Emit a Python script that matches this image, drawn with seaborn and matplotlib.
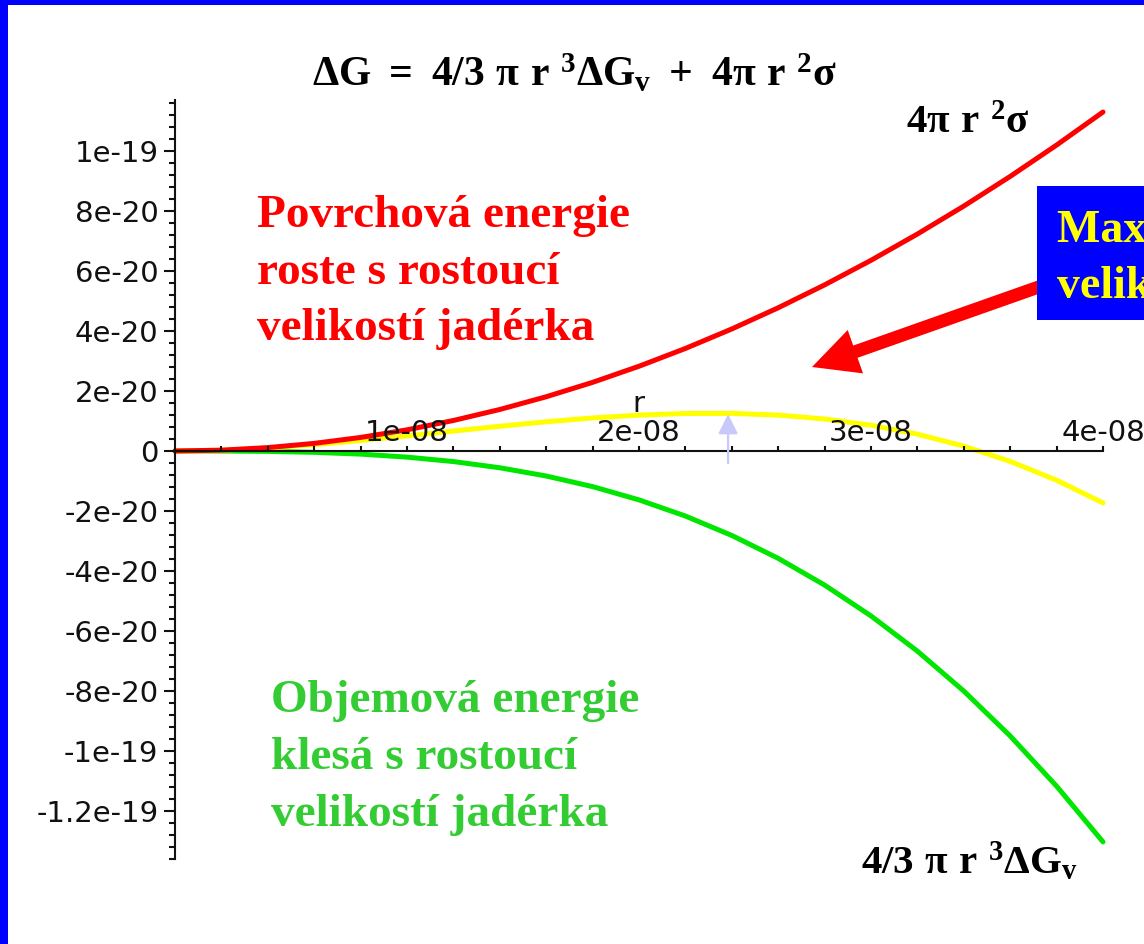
import numpy as np
import pandas as pd
import matplotlib
matplotlib.use("Agg")
import matplotlib.pyplot as plt
import seaborn as sns
from matplotlib.patches import Rectangle, FancyArrow
from matplotlib.ticker import FixedLocator, FixedFormatter
from matplotlib.transforms import IdentityTransform

# ---------------- data ----------------
r_values = [0.0, 2e-9, 4e-9, 6e-9, 8e-9, 10e-9, 12e-9, 14e-9, 16e-9, 18e-9, 20e-9,
            22e-9, 24e-9, 26e-9, 28e-9, 30e-9, 32e-9, 34e-9, 36e-9, 38e-9, 40e-9]
surface_energy = [0.0, 0.028e-20, 0.113e-20, 0.254e-20, 0.452e-20, 0.706e-20, 1.017e-20,
                  1.384e-20, 1.808e-20, 2.288e-20, 2.825e-20, 3.418e-20, 4.068e-20,
                  4.774e-20, 5.537e-20, 6.356e-20, 7.232e-20, 8.164e-20, 9.153e-20,
                  10.198e-20, 11.30e-20]
volume_energy = [0.0, -0.0016e-20, -0.013e-20, -0.044e-20, -0.104e-20, -0.204e-20, -0.352e-20,
                 -0.559e-20, -0.834e-20, -1.187e-20, -1.629e-20, -2.168e-20, -2.815e-20,
                 -3.578e-20, -4.469e-20, -5.497e-20, -6.671e-20, -8.002e-20, -9.499e-20,
                 -11.172e-20, -13.03e-20]
total_energy = [0.0, 0.026e-20, 0.100e-20, 0.210e-20, 0.348e-20, 0.502e-20, 0.665e-20,
                0.825e-20, 0.974e-20, 1.101e-20, 1.196e-20, 1.250e-20, 1.253e-20,
                1.196e-20, 1.068e-20, 0.859e-20, 0.561e-20, 0.162e-20, -0.346e-20,
                -0.974e-20, -1.73e-20]
peak_r = 2.384e-8
peak_arrow_y = [-0.4e-20, 1.23e-20]

ytick_values = [-1.2e-19, -1e-19, -8e-20, -6e-20, -4e-20, -2e-20, 0.0,
                2e-20, 4e-20, 6e-20, 8e-20, 1e-19]
ytick_labels = ["-1.2e-19", "-1e-19", "-8e-20", "-6e-20", "-4e-20", "-2e-20", "0",
                "2e-20", "4e-20", "6e-20", "8e-20", "1e-19"]
xtick_values = [1e-8, 2e-8, 3e-8, 4e-8]
xtick_labels = ["1e-08", "2e-08", "3e-08", "4e-08"]

title_text = r"$\Delta G\ =\ 4/3\ \pi\ r\ {}^{3}\Delta G_{v}\ +\ 4\pi\ r\ {}^{2}\sigma$"
surface_label = r"$4\pi\ r\ {}^{2}\sigma$"
volume_label = r"$4/3\ \pi\ r\ {}^{3}\Delta G_{v}$"
red_lines = ["Povrchová energie", "roste s rostoucí", "velikostí jadérka"]
green_lines = ["Objemová energie", "klesá s rostoucí", "velikostí jadérka"]
box_lines = ["Maximální ΔG", "velikost kritického zárodku"]

# ---------------- style ----------------
sns.set_style("white")
plt.rcParams["font.family"] = ["DejaVu Sans"]
plt.rcParams["mathtext.fontset"] = "custom"
plt.rcParams["mathtext.rm"] = "Liberation Serif:bold"
plt.rcParams["mathtext.it"] = "Liberation Serif:bold"
plt.rcParams["mathtext.bf"] = "Liberation Serif:bold"
plt.rcParams["mathtext.default"] = "rm"

W, H = 1144, 944
fig = plt.figure(figsize=(W / 100, H / 100), dpi=100, facecolor="white")
ax = fig.add_axes([0, 0, 1, 1])
ax.set_facecolor("white")

def fx(px):
    return px / W

def fy(py):
    return 1 - py / H

# pixel mapping: x=175px -> r=0, 232px per 1e-8; y=451px -> 0, 30px per 1e-20
ax.set_xlim(-175 / 232 * 1e-8, (W - 175) / 232 * 1e-8)
ax.set_ylim((451 - H) / 30 * 1e-20, 451 / 30 * 1e-20)

df = pd.DataFrame({"r": r_values, "surface": surface_energy,
                   "volume": volume_energy, "total": total_energy})
lw = 3.6
sns.lineplot(data=df, x="r", y="volume", color="#00e600", lw=lw, ax=ax, zorder=2)
sns.lineplot(data=df, x="r", y="total", color="#ffff00", lw=lw, ax=ax, zorder=2.1)
sns.lineplot(data=df, x="r", y="surface", color="#ff0000", lw=lw, ax=ax, zorder=2.2)
ax.set_xlabel("")
ax.set_ylabel("")

# axes through origin (Maple style)
ax.set_axisbelow(False)
for s in ["right", "top"]:
    ax.spines[s].set_visible(False)
ax.spines["left"].set_position(("data", 0))
ax.spines["bottom"].set_position(("data", 0))
ax.spines["left"].set_bounds(-1.36e-19, 1.17e-19)
ax.spines["bottom"].set_bounds(0, 4e-8)
for s in ["left", "bottom"]:
    ax.spines[s].set_linewidth(1.5)
    ax.spines[s].set_color("#111111")
    ax.spines[s].set_zorder(3)
ax.xaxis.set_ticks_position("bottom")
ax.yaxis.set_ticks_position("left")

ax.yaxis.set_major_locator(FixedLocator(ytick_values))
ax.yaxis.set_major_formatter(FixedFormatter(ytick_labels))
ax.yaxis.set_minor_locator(FixedLocator(np.arange(-34, 30) * 4e-21))
ax.xaxis.set_major_locator(FixedLocator(xtick_values))
ax.xaxis.set_major_formatter(FixedFormatter(xtick_labels))
ax.xaxis.set_minor_locator(FixedLocator(np.arange(1, 21) * 2e-9))

ax.tick_params(axis="y", which="major", direction="out", length=8, width=1.5,
               pad=4, labelsize=21, colors="#111111")
ax.tick_params(axis="y", which="minor", direction="out", length=4.3, width=1.5,
               colors="#111111")
# x ticks point upward, labels sit above the axis
ax.tick_params(axis="x", which="both", direction="in", length=3.6, width=1.5,
               pad=-23, labelsize=21, colors="#111111")

ax.set_xlabel("r", fontsize=21, color="#111111")
ax.xaxis.set_label_coords(fx(638), fy(412))
ax.xaxis.label.set_va("baseline")

# marker of the maximum
ax.annotate("", xy=(peak_r, peak_arrow_y[1]), xytext=(peak_r, peak_arrow_y[0]),
            arrowprops=dict(arrowstyle="-|>,head_length=0.8,head_width=0.4",
                            color="#c8c8fa", lw=1.6, mutation_scale=15,
                            shrinkA=0, shrinkB=0), zorder=5)

# ---------------- texts ----------------
fig.text(fx(312), fy(86), title_text, ha="left", va="baseline", fontsize=30, color="black")
fig.text(fx(906), fy(133), surface_label, ha="left", va="baseline", fontsize=29.5, color="black")
fig.text(fx(861), fy(874), volume_label, ha="left", va="baseline", fontsize=29.5, color="black")

for line, yb in zip(red_lines, [227, 284, 340]):
    fig.text(fx(257), fy(yb), line, ha="left", va="baseline", fontsize=34,
             family="Liberation Serif", weight="bold", color="#ff0000")
for line, yb in zip(green_lines, [712, 769, 826]):
    fig.text(fx(271), fy(yb), line, ha="left", va="baseline", fontsize=34,
             family="Liberation Serif", weight="bold", color="#33cc33")

# red arrow to the maximum and the blue box
arrow = FancyArrow(1050, H - 283, -238, -84, width=13, head_width=46, head_length=46,
                   length_includes_head=True, color="#ff0000", lw=0,
                   transform=IdentityTransform(), zorder=3)
fig.add_artist(arrow)
box = Rectangle((1037, H - 320), 300, 134, facecolor="#0000ff", edgecolor="none",
                transform=IdentityTransform(), zorder=4)
fig.add_artist(box)
for line, yb in zip(box_lines, [242, 298]):
    fig.text(fx(1057), fy(yb), line, ha="left", va="baseline", fontsize=33,
             family="Liberation Serif", weight="bold", color="#ffff00", zorder=5)

# blue slide border (left and top)
fig.add_artist(Rectangle((0, 0), 8 / W, 1, transform=fig.transFigure,
                         facecolor="#0000ff", edgecolor="none", zorder=6))
fig.add_artist(Rectangle((0, 1 - 5 / H), 1, 5 / H, transform=fig.transFigure,
                         facecolor="#0000ff", edgecolor="none", zorder=6))

fig.savefig("out.png", dpi=100, facecolor="white")
